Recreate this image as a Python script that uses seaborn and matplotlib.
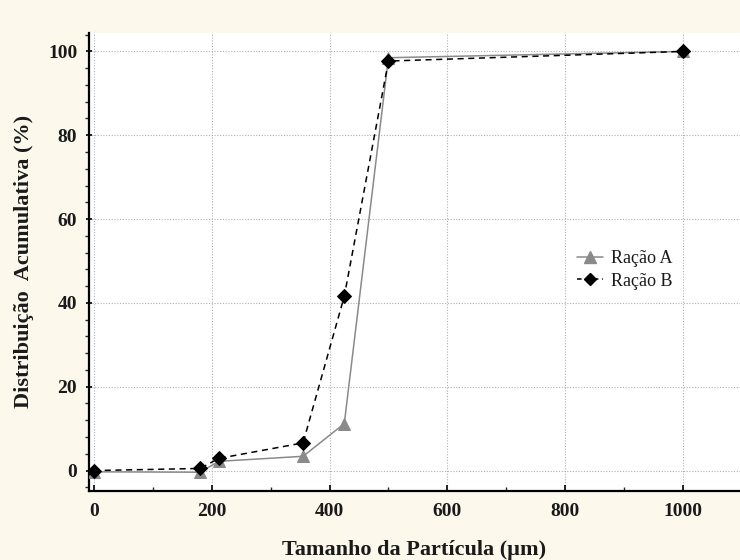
import matplotlib
matplotlib.use("Agg")
import matplotlib.pyplot as plt
from matplotlib.ticker import MultipleLocator
from matplotlib.lines import Line2D
import seaborn as sns
import pandas as pd

# Data
tamanho = [0, 180, 212, 355, 425, 500, 1000]
racao_a = [-0.3, -0.4, 2.2, 3.4, 11.2, 98.5, 100.0]
racao_b = [0.0, 0.5, 2.9, 6.6, 41.6, 97.7, 100.0]
series_names = ["Ração A", "Ração B"]
x_ticks = [0, 200, 400, 600, 800, 1000]
y_ticks = [0, 20, 40, 60, 80, 100]

sns.set_theme(style="white")
plt.rcParams["font.family"] = ["Liberation Serif", "DejaVu Serif"]

bg = "#FCF8EC"
fig = plt.figure(figsize=(7.4, 5.6), dpi=100, facecolor=bg)
ax = fig.add_axes([0.1203, 0.1238, 0.8797, 0.8173])
ax.set_facecolor("white")

df_a = pd.DataFrame({"x": tamanho, "y": racao_a})
df_b = pd.DataFrame({"x": tamanho, "y": racao_b})

sns.lineplot(data=df_a, x="x", y="y", ax=ax, color="#8a8a8a", linewidth=1.1,
             marker="^", markersize=8, markeredgecolor="#8a8a8a",
             markerfacecolor="#8a8a8a", zorder=3)
sns.lineplot(data=df_b, x="x", y="y", ax=ax, color="black", linewidth=1.1,
             linestyle=(0, (4, 3)), marker="D", markersize=7,
             markeredgecolor="black", markerfacecolor="black", zorder=4)

ax.set_xlim(-8.5, 1097)
ax.set_ylim(-4.8, 104.4)
ax.set_xticks(x_ticks)
ax.set_yticks(y_ticks)
ax.xaxis.set_minor_locator(MultipleLocator(100))
ax.yaxis.set_minor_locator(MultipleLocator(4))

ax.grid(True, which="major", color="#b0b0b0", linestyle=(0, (1, 1.5)), linewidth=0.8)

for s in ["top", "right"]:
    ax.spines[s].set_visible(False)
for s in ["left", "bottom"]:
    ax.spines[s].set_color("black")
    ax.spines[s].set_linewidth(1.6)

ax.tick_params(axis="x", which="major", direction="in", length=4, width=1.2,
               bottom=True, labelsize=14, pad=9, colors="black")
ax.tick_params(axis="x", which="minor", direction="in", length=3, width=1, bottom=True)
ax.tick_params(axis="y", which="major", direction="inout", length=5, width=1.2,
               left=True, labelsize=14, pad=6, colors="black")
ax.tick_params(axis="y", which="minor", direction="out", length=3, width=1, left=True)
for lab in ax.get_xticklabels() + ax.get_yticklabels():
    lab.set_fontweight("bold")
    lab.set_color("#1a1a1a")

ax.set_xlabel("Tamanho da Partícula (µm)", fontsize=16, fontweight="bold",
              labelpad=14, color="#1a1a1a")
ax.set_ylabel("Distribuição  Acumulativa (%)", fontsize=16, fontweight="bold",
              labelpad=10, color="#1a1a1a")

handles = [
    Line2D([0], [0], color="#8a8a8a", lw=1.1, marker="^", markersize=8,
           markerfacecolor="#8a8a8a", markeredgecolor="#8a8a8a"),
    Line2D([0], [0], color="black", lw=1.1, linestyle=(0, (3, 2.5)), marker="D",
           markersize=6, markerfacecolor="black", markeredgecolor="black"),
]
leg = ax.legend(handles, series_names, loc="center left",
                bbox_to_anchor=(0.725, 0.482), frameon=False, fontsize=13,
                handlelength=1.4, handletextpad=0.45, labelspacing=0.3)
for t in leg.get_texts():
    t.set_color("#1a1a1a")

fig.savefig("out.png", dpi=100, facecolor=bg)
